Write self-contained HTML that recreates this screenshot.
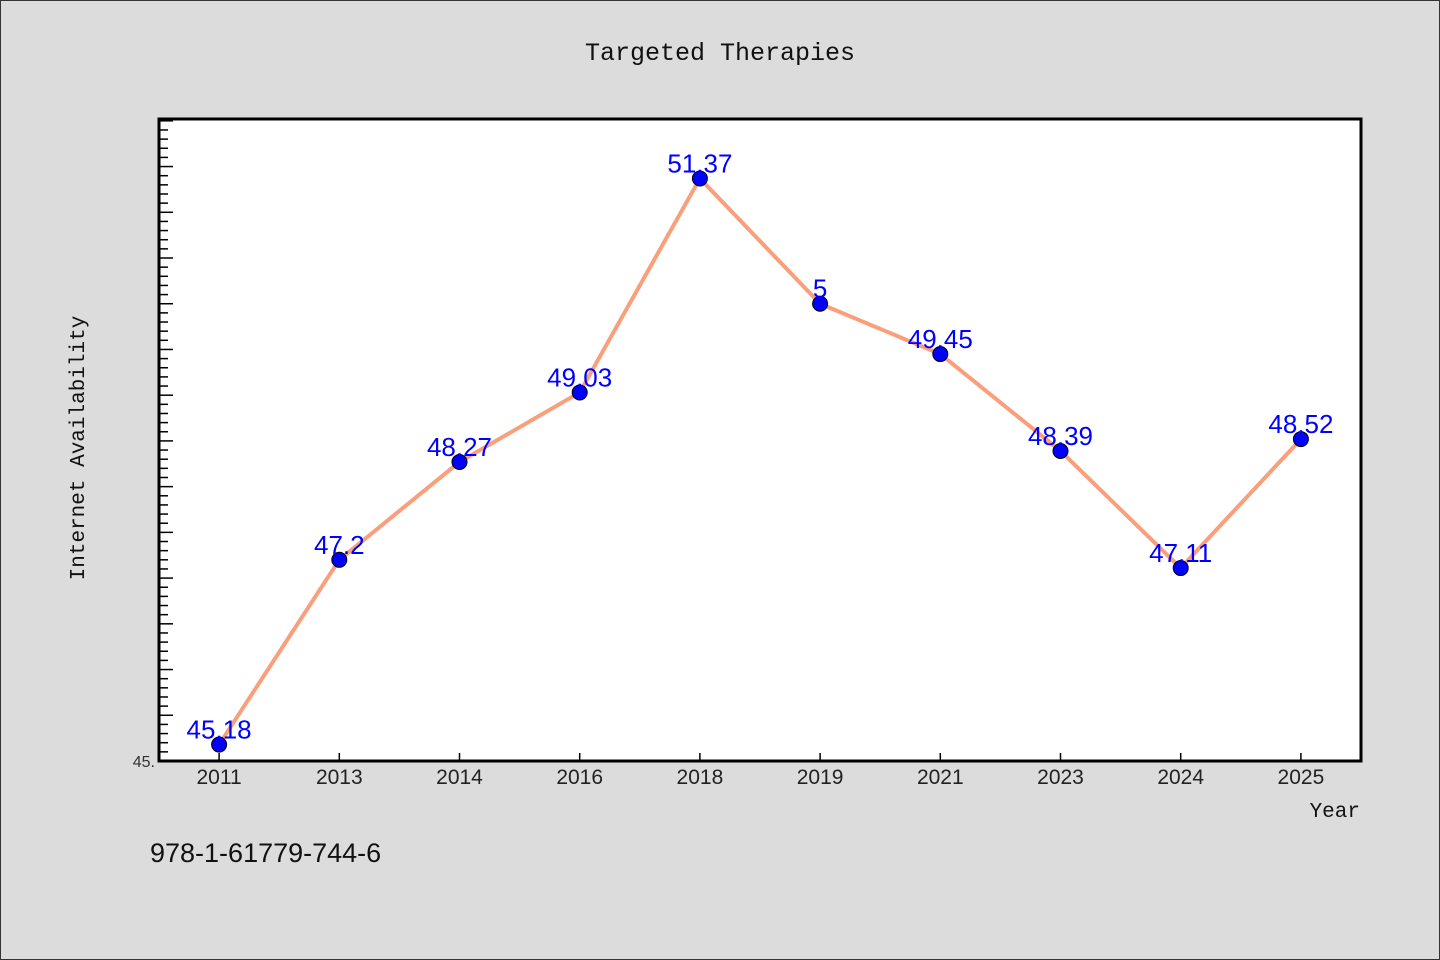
<!DOCTYPE html>
<html><head><meta charset="utf-8"><style>
body{margin:0;background:#dcdcdc;}
svg{display:block}
</style></head><body>
<svg width="1440" height="960" xmlns="http://www.w3.org/2000/svg">
<rect x="0.5" y="0.5" width="1439" height="959" fill="#dcdcdc" stroke="#333"/>
<text x="720" y="60" text-anchor="middle" font-family="Liberation Mono, monospace" font-size="25" fill="#111">Targeted Therapies</text>
<rect x="159" y="119" width="1202" height="642" fill="#fff"/>
<g id="axes"></g>
<g id="marks"></g>
<rect x="159" y="119" width="1202" height="642" fill="none" stroke="#000" stroke-width="3"/>
<text x="84" y="448" text-anchor="middle" transform="rotate(-90 84 448)" font-family="Liberation Mono, monospace" font-size="21" fill="#111">Internet Availability</text>
<text x="1360" y="817" text-anchor="end" font-family="Liberation Mono, monospace" font-size="21" fill="#111">Year</text>
<text x="150" y="862" font-family="Liberation Sans, sans-serif" font-size="27" fill="#111">978-1-61779-744-6</text>
<text x="155" y="767" text-anchor="end" font-family="Liberation Sans, sans-serif" font-size="16" fill="#333">45.</text>
</svg>
<script>
const categories=["2011","2013","2014","2016","2018","2019","2021","2023","2024","2025"];
const values=[45.18,47.2,48.27,49.03,51.37,50,49.45,48.39,47.11,48.52];
const valueLabels=["45.18","47.2","48.27","49.03","51.37","5","49.45","48.39","47.11","48.52"];
const yMin=45, yMax=52.02;
const NS="http://www.w3.org/2000/svg";
const L=159,R=1361,T=119,B=761;
const band=(R-L)/categories.length;
const x=i=>L+band*(i+0.5);
const y=v=>B-(v-yMin)/(yMax-yMin)*(B-T);
function mk(tag,attrs,parent){const e=document.createElementNS(NS,tag);for(const k in attrs)e.setAttribute(k,attrs[k]);parent.appendChild(e);return e;}
const axes=document.getElementById('axes'),marks=document.getElementById('marks');
for(let k=0;;k++){const v=yMin+k*0.1;if(v>yMax)break;const yy=y(v);const major=k%5===0;
 const t=mk('line',{x1:L,x2:L+(major?14:9),y1:yy,y2:yy,stroke:'#000','stroke-width':1.5},axes);
 
 }
categories.forEach((c,i)=>{
 const t=mk('line',{x1:x(i),x2:x(i),y1:B,y2:B-8,stroke:'#000','stroke-width':1.5},axes);
 
 
 const tx=mk('text',{x:x(i),y:784,'text-anchor':'middle','font-family':'Liberation Sans, sans-serif','font-size':21,fill:'#222'},axes);
 tx.textContent=c;
 
 
});
const pl=mk('polyline',{points:values.map((v,i)=>x(i)+','+y(v)).join(' '),fill:'none',stroke:'#fa9f7c','stroke-width':4,'stroke-linejoin':'round'},marks);


values.forEach((v,i)=>{
 const c=mk('circle',{cx:x(i),cy:y(v),r:7.5,fill:'#0000ff',stroke:'#000','stroke-width':1},marks);
 
 
});
values.forEach((v,i)=>{
 const t=mk('text',{x:x(i),y:y(v)-6,'text-anchor':'middle','font-family':'Liberation Sans, sans-serif','font-size':26,fill:'#0000ff'},marks);
 t.textContent=valueLabels[i];
 
 
});
</script>
</body></html>
